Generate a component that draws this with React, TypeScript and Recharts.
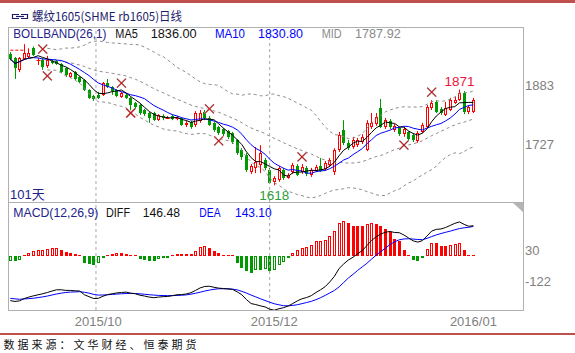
import React from 'react';
import { ComposedChart, Bar, Line, XAxis, YAxis, ReferenceLine, ReferenceDot } from 'recharts';

// ---------------- data ----------------
const opens = [
  1965, 1954, 1923, 1952, 1957, 1981, 1949, 1949, 1933, 1946,
  1946, 1938, 1928, 1904, 1917, 1904, 1896, 1870, 1854, 1857,
  1857, 1888, 1878, 1870, 1851, 1857, 1849, 1836, 1830, 1817,
  1809, 1809, 1790, 1801, 1796, 1801, 1795, 1796, 1777, 1785,
  1777, 1788, 1812, 1796, 1783, 1772, 1767, 1761, 1756, 1738,
  1711, 1698, 1653, 1664, 1672, 1685, 1658, 1627, 1632, 1658,
  1637, 1653, 1669, 1653, 1664, 1645, 1656, 1669, 1661, 1672,
  1653, 1711, 1764, 1730, 1719, 1724, 1732, 1711, 1772, 1780,
  1822, 1772, 1788, 1764, 1769, 1753, 1759, 1751, 1735, 1759,
  1772, 1822, 1838, 1820, 1804, 1817, 1835, 1843, 1862, 1812,
  1812,
];
const highs = [
  1970, 1957, 1957, 1991, 1980, 1985, 1954, 1954, 1960, 1949,
  1949, 1941, 1930, 1917, 1920, 1907, 1899, 1872, 1857, 1865,
  1891, 1899, 1880, 1872, 1865, 1862, 1851, 1838, 1833, 1820,
  1812, 1812, 1806, 1806, 1801, 1806, 1801, 1798, 1788, 1788,
  1814, 1817, 1817, 1801, 1785, 1775, 1769, 1764, 1759, 1740,
  1716, 1703, 1674, 1719, 1724, 1690, 1664, 1642, 1669, 1664,
  1650, 1677, 1674, 1674, 1669, 1664, 1672, 1690, 1682, 1690,
  1716, 1759, 1790, 1738, 1746, 1743, 1753, 1790, 1809, 1809,
  1846, 1796, 1793, 1780, 1772, 1772, 1761, 1756, 1761, 1783,
  1830, 1843, 1843, 1825, 1838, 1849, 1851, 1871, 1867, 1830,
  1849,
];
const lows = [
  1948, 1899, 1917, 1950, 1954, 1960, 1936, 1923, 1928, 1938,
  1936, 1915, 1904, 1901, 1896, 1888, 1867, 1846, 1841, 1846,
  1854, 1875, 1857, 1851, 1849, 1846, 1817, 1820, 1804, 1801,
  1783, 1788, 1788, 1790, 1793, 1790, 1790, 1775, 1772, 1767,
  1772, 1783, 1790, 1775, 1759, 1751, 1748, 1740, 1727, 1698,
  1685, 1653, 1648, 1650, 1650, 1658, 1621, 1618, 1627, 1632,
  1635, 1648, 1642, 1648, 1642, 1640, 1653, 1653, 1656, 1666,
  1645, 1706, 1724, 1711, 1714, 1719, 1727, 1708, 1767, 1775,
  1769, 1767, 1767, 1759, 1748, 1746, 1735, 1732, 1730, 1756,
  1769, 1817, 1809, 1804, 1801, 1814, 1833, 1841, 1806, 1806,
  1809,
];
const closes = [
  1952, 1928, 1954, 1968, 1968, 1962, 1950, 1931, 1949, 1941,
  1938, 1917, 1909, 1915, 1899, 1891, 1870, 1849, 1846, 1849,
  1888, 1878, 1867, 1854, 1862, 1849, 1830, 1825, 1809, 1806,
  1796, 1790, 1804, 1796, 1797, 1793, 1797, 1777, 1782, 1772,
  1809, 1809, 1796, 1777, 1764, 1756, 1753, 1746, 1732, 1703,
  1693, 1658, 1669, 1679, 1703, 1664, 1624, 1637, 1664, 1637,
  1645, 1672, 1645, 1666, 1648, 1658, 1666, 1656, 1677, 1685,
  1711, 1751, 1730, 1716, 1738, 1738, 1746, 1783, 1783, 1798,
  1772, 1790, 1772, 1775, 1753, 1767, 1740, 1738, 1756, 1777,
  1825, 1835, 1812, 1809, 1822, 1843, 1843, 1862, 1812, 1825,
  1843,
];
const diffs = [
  -213, -217, -214, -203, -196, -190, -185, -180, -174, -167,
  -161, -161, -164, -164, -166, -167, -185, -194, -203, -202,
  -192, -184, -180, -176, -174, -172, -177, -180, -187, -191,
  -196, -199, -196, -194, -193, -189, -185, -184, -181, -175,
  -164, -152, -145, -144, -149, -153, -155, -157, -159, -171,
  -185, -208, -227, -232, -238, -243, -254, -259, -252, -247,
  -239, -227, -214, -204, -198, -189, -174, -161, -146, -123,
  -96, -59, -37, -18, -5, 12, 27, 51, 76, 93,
  107, 115, 119, 114, 113, 102, 88, 74, 68, 75,
  97, 121, 129, 131, 138, 148, 158, 165, 153, 144,
  146.48,
];
const deas = [
  -202, -204.5, -206.5, -205, -203.5, -201.5, -198.5, -195, -191, -186,
  -181, -177, -174, -172, -171, -170, -173, -177, -183, -186.5,
  -186, -185, -183, -181.5, -180, -179, -178.5, -179, -180.5, -182.5,
  -184.5, -186.5, -188, -188.5, -189, -189, -188, -187, -185.5, -182,
  -177.5, -172.5, -167, -162.5, -158.5, -156, -156, -156, -158, -161.5,
  -168.5, -176.5, -186.5, -195, -204, -212.5, -220.5, -228, -233, -237.5,
  -238, -236, -232.5, -227.5, -222, -216.5, -208.5, -199, -188, -176,
  -164, -147, -125.5, -104.5, -87, -68, -51, -34, -14, 5,
  22.5, 39, 56, 69.5, 79, 83, 84, 82.5, 80.5, 79.5,
  86, 94.5, 102.5, 109, 115, 120.5, 127, 133, 136.5, 139,
  143.1,
];
const macdBars = [
  -24, -24, -16, 2, 16, 24, 29, 30, 35, 40,
  41, 32, 19, 16, 11, 8, -32, -35, -43, -32,
  -8, 8, 13, 16, 16, 13, 3, 1, -13, -16,
  -21, -24, -13, -8, -8, 5, 10, 10, 13, 13,
  24, 43, 48, 40, 24, 16, 8, 5, 2, -32,
  -56, -72, -80, -64, -64, -61, -72, -64, -40, -28,
  -10, 16, 32, 40, 45, 56, 72, 74, 77, 96,
  120, 160, 168, 160, 147, 147, 144, 157, 160, 155,
  144, 131, 115, 83, 72, 32, 3, -19, -24, -8,
  35, 64, 64, 51, 51, 56, 61, 64, 32, 8,
  7,
];

const priceTicks = [1727, 1883];
const macdTicks = [-122, 30];
const dateTickIdx = [19, 57, 100];
const dateTickLabels = ['2015/10', '2015/12', '2016/01'];
const monthLineIdx = [19, 56];
const monthLinePos: any[] = ['start', 'middle'];
const xMarkIdx = [7, 8, 24, 26, 43, 45, 63, 85, 91];
const xMarkVal = [1978, 1907, 1888, 1809, 1820, 1735, 1693, 1724, 1864];
const highMarkIdx = 97;
const lowMarkIdx = 57;
const topDashIdx = [0, 3];
const topDashVal = 1975;

// legend texts: [text, x, width, colour]
const priceLegend: [string, number, number, string][] = [
  ['BOLLBAND(26,1)', 13.3, 93, '#22228a'],
  ['MA5', 115.3, 22.5, '#111111'],
  ['1836.00', 150.7, 46, '#111111'],
  ['MA10', 215, 30, '#0000ff'],
  ['1830.80', 258, 45, '#0000ff'],
  ['MID', 321.7, 20, '#8a8a8a'],
  ['1787.92', 355, 45.7, '#8a8a8a'],
];
const macdLegend: [string, number, number, string][] = [
  ['MACD(12,26,9)', 13.3, 85, '#22228a'],
  ['DIFF', 106, 24, '#111111'],
  ['146.48', 142.7, 37.3, '#111111'],
  ['DEA', 199.3, 21.3, '#0000ff'],
  ['143.10', 235, 36.7, '#0000ff'],
];

// ---------------- derived rows ----------------
const N = closes.length;
const PAD_SLOTS = 10;
const BOLL_START = 8;

function avg(arr: number[]) {
  return arr.reduce((a, b) => a + b, 0) / arr.length;
}
function sma(i: number, n: number) {
  return avg(closes.slice(Math.max(0, i - n + 1), i + 1));
}
function boll(i: number) {
  const w = closes.slice(Math.max(0, i - 25), i + 1);
  const m = avg(w);
  const sd = Math.sqrt(w.reduce((a, b) => a + (b - m) * (b - m), 0) / Math.max(1, w.length - 1));
  return { m, up: m + 2 * sd, dn: m - 2 * sd };
}

const rows: any[] = [];
for (let i = 0; i < N + PAD_SLOTS; i++) {
  if (i >= N) {
    rows.push({ i });
    continue;
  }
  const b = i >= BOLL_START ? boll(i) : null;
  rows.push({
    i,
    open: opens[i],
    high: highs[i],
    low: lows[i],
    close: closes[i],
    ma5: sma(i, 5),
    ma10: sma(i, 10),
    mid: b ? b.m : null,
    up: b ? b.up : null,
    dn: b ? b.dn : null,
    diff: diffs[i],
    dea: deas[i],
    macd: macdBars[i],
    rising: i === 0 ? true : macdBars[i] > macdBars[i - 1],
  });
}

// ---------------- styles ----------------
const UP = '#ff0000';
const DOWN = '#009a00';
const FONT = '"Liberation Sans", Arial, sans-serif';
const CJK = '"Noto Sans CJK SC", sans-serif';
const AXIS_GRAY = '#808080';
const FRAME = '#b0b0b0';

function Candle(props: any) {
  const { x, y, width, height, payload } = props;
  if (!payload || payload.high == null) return null;
  const { open, close, high, low } = payload;
  const span = high - low;
  const toY = (v: number) => (span > 0 ? y + ((high - v) / span) * height : y);
  const left = Math.round(x);
  const w = Math.max(3, Math.round(width));
  const cx = left + Math.floor(w / 2) + 0.5;
  const yH = toY(high);
  const yL = toY(low);
  const yT = Math.round(toY(Math.max(open, close)));
  const yB = Math.round(toY(Math.min(open, close)));
  const up = close >= open;
  const color = up ? UP : DOWN;
  if (yB - yT < 1) {
    return (
      <g>
        <line x1={cx} x2={cx} y1={yH} y2={yL} stroke={color} strokeWidth={1} />
        <line x1={left - 0.5} x2={left + w + 0.5} y1={yT + 0.5} y2={yT + 0.5} stroke={color} strokeWidth={1} />
      </g>
    );
  }
  return (
    <g>
      <line x1={cx} x2={cx} y1={yH} y2={yT} stroke={color} strokeWidth={1} />
      <line x1={cx} x2={cx} y1={yB} y2={yL} stroke={color} strokeWidth={1} />
      {up ? (
        <rect x={left + 0.5} y={yT + 0.5} width={w - 1} height={Math.max(1, yB - yT - 1)} fill="#ffffff" stroke={color} strokeWidth={1} />
      ) : (
        <rect x={left} y={yT} width={w} height={Math.max(1, yB - yT)} fill={color} />
      )}
    </g>
  );
}

function MacdBar(props: any) {
  const { x, y, width, height, payload } = props;
  if (!payload || payload.macd == null) return null;
  const v = payload.macd;
  const top = Math.round(Math.min(y, y + height));
  const bot = Math.round(Math.max(y, y + height));
  const h = bot - top;
  const color = v >= 0 ? UP : DOWN;
  const left = Math.round(x);
  const w = Math.max(3, Math.round(width));
  if (h < 2) {
    return <rect x={left} y={v >= 0 ? bot - 1 : top} width={w} height={1} fill={color} />;
  }
  if (payload.rising) {
    return <rect x={left + 0.5} y={top + 0.5} width={w - 1} height={h - 1} fill="#ffffff" stroke={color} strokeWidth={1} />;
  }
  return <rect x={left} y={top} width={w} height={h} fill={color} />;
}

function XMark(props: any) {
  const { cx, cy } = props;
  if (cx == null || cy == null) return null;
  const s = 4.5;
  return (
    <g>
      <line x1={cx - s} y1={cy - s} x2={cx + s} y2={cy + s} stroke="#b4eef0" strokeWidth={2} />
      <line x1={cx - s} y1={cy + s} x2={cx + s} y2={cy - s} stroke="#b4eef0" strokeWidth={2} />
      <line x1={cx - s} y1={cy - s} x2={cx + s} y2={cy + s} stroke="#d01010" strokeWidth={1.1} />
      <line x1={cx - s} y1={cy + s} x2={cx + s} y2={cy - s} stroke="#d01010" strokeWidth={1.1} />
    </g>
  );
}

const emptyShape = () => <g />;

export default function App() {
  const tickStyle = { fill: AXIS_GRAY, fontSize: 13, fontFamily: FONT };
  return (
    <div style={{ position: 'absolute', left: 0, top: 0, width: 575, height: 353, background: '#ffffff', overflow: 'hidden' }}>
      <div style={{ position: 'absolute', left: 0, top: 0, width: 575, height: 3, background: '#c0504d' }} />
      <div style={{ position: 'absolute', left: 0, top: 333, width: 575, height: 2, background: '#c0504d' }} />
      <div style={{ position: 'absolute', left: 8, top: 27, width: 516, height: 176, border: `1px solid ${FRAME}`, boxSizing: 'border-box' }} />
      <div style={{ position: 'absolute', left: 8, top: 202, width: 516, height: 109, borderLeft: `1px solid ${FRAME}`, borderRight: `1px solid ${FRAME}`, borderBottom: `1px solid ${FRAME}`, boxSizing: 'border-box' }} />

      {/* price panel */}
      <div style={{ position: 'absolute', left: 0, top: 0 }}>
        <ComposedChart width={575} height={202} data={rows} margin={{ top: 28, right: 3, bottom: 0, left: 8 }}>
          <XAxis dataKey="i" type="category" hide allowDuplicatedCategory={false} />
          <YAxis
            orientation="right"
            width={50}
            type="number"
            domain={[1573.65, 2033.71]}
            allowDataOverflow
            ticks={priceTicks}
            tick={tickStyle}
            tickLine={false}
            axisLine={false}
            tickSize={0}
            tickMargin={3}
          />
          {monthLineIdx.map((m, k) => (
            <ReferenceLine key={'g' + m} x={m} position={monthLinePos[k]} stroke="#a8a8a8" strokeDasharray="3 3" />
          ))}
          <Line dataKey="up" stroke="#8c8c8c" strokeWidth={1} strokeDasharray="3 3" dot={false} isAnimationActive={false} />
          <Line dataKey="mid" stroke="#8c8c8c" strokeWidth={1} strokeDasharray="3 3" dot={false} isAnimationActive={false} />
          <Line dataKey="dn" stroke="#8c8c8c" strokeWidth={1} strokeDasharray="3 3" dot={false} isAnimationActive={false} />
          <ReferenceLine
            segment={[{ x: topDashIdx[0], y: topDashVal }, { x: topDashIdx[1], y: topDashVal }]}
            stroke="#ff0000"
            strokeDasharray="3 2"
          />
          <Bar
            dataKey={(d: any) => (d.high == null ? null : [d.low, d.high])}
            maxBarSize={3}
            shape={(p: any) => <Candle {...p} />}
            isAnimationActive={false}
          />
          <Line dataKey="ma10" stroke="#0000ff" strokeWidth={1} dot={false} isAnimationActive={false} />
          <Line dataKey="ma5" stroke="#000000" strokeWidth={1} dot={false} isAnimationActive={false} />
          {xMarkIdx.map((xi, k) => (
            <ReferenceDot key={'x' + xi} x={xi} y={xMarkVal[k]} r={5} shape={(p: any) => <XMark {...p} />} />
          ))}
          <ReferenceDot
            x={highMarkIdx}
            y={highs[highMarkIdx]}
            r={1}
            shape={emptyShape}
            label={{ value: String(highs[highMarkIdx]), position: 'top', offset: 3, fill: '#f0143c', fontSize: 13.5, fontFamily: FONT }}
          />
          <ReferenceDot
            x={lowMarkIdx}
            y={lows[lowMarkIdx]}
            r={1}
            shape={emptyShape}
            label={{ value: String(lows[lowMarkIdx]), position: 'bottom', offset: 4, fill: '#2e9e3a', fontSize: 13.5, fontFamily: FONT }}
          />
        </ComposedChart>
      </div>

      {/* MACD panel */}
      <div style={{ position: 'absolute', left: 0, top: 202 }}>
        <ComposedChart width={575} height={151} data={rows} margin={{ top: 1, right: 3, bottom: 23, left: 8 }}>
          <XAxis
            dataKey="i"
            type="category"
            allowDuplicatedCategory={false}
            ticks={dateTickIdx}
            interval={0}
            tickFormatter={(v: any) => dateTickLabels[dateTickIdx.indexOf(Number(v))] || ''}
            tick={tickStyle}
            tickLine={false}
            axisLine={false}
            tickSize={0}
            tickMargin={7}
            height={20}
          />
          <YAxis
            orientation="right"
            width={50}
            type="number"
            domain={[-258, 255.6]}
            allowDataOverflow
            ticks={macdTicks}
            tick={tickStyle}
            tickLine={false}
            axisLine={false}
            tickSize={0}
            tickMargin={3}
          />
          {monthLineIdx.map((m, k) => (
            <ReferenceLine key={'mg' + m} x={m} position={monthLinePos[k]} stroke="#a8a8a8" strokeDasharray="3 3" />
          ))}
          <Bar dataKey="macd" maxBarSize={3} shape={(p: any) => <MacdBar {...p} />} isAnimationActive={false} />
          <Line dataKey="dea" stroke="#0000ff" strokeWidth={1} dot={false} isAnimationActive={false} />
          <Line dataKey="diff" stroke="#000000" strokeWidth={1} dot={false} isAnimationActive={false} />
        </ComposedChart>
      </div>

      {/* texts & decorations */}
      <svg width={575} height={353} style={{ position: 'absolute', left: 0, top: 0, pointerEvents: 'none' }}>
        <g stroke="#1c1c6c" strokeWidth={1.2} fill="none">
          <path d="M19 14.5 H12.5 V18.5 H19" />
          <path d="M21 14.5 H27.5 V18.5 H21" />
          <path d="M16 16.5 H24" />
        </g>
        <text x={32} y={20.5} fontFamily={CJK} fontSize={12} fill="#1c1c6c" textLength={150} lengthAdjust="spacingAndGlyphs">
          螺纹1605(SHME rb1605)日线
        </text>

        <g fontFamily={FONT} fontSize={12}>
          {priceLegend.map(([t, x, w, c]) => (
            <text key={'pl' + t} x={x} y={38} fill={c} textLength={w} lengthAdjust="spacingAndGlyphs">{t}</text>
          ))}
          {macdLegend.map(([t, x, w, c]) => (
            <text key={'ml' + t} x={x} y={216.5} fill={c} textLength={w} lengthAdjust="spacingAndGlyphs">{t}</text>
          ))}
        </g>

        <text x={10} y={199} fontFamily={`${FONT}, ${CJK}`} fontSize={13} fill="#22228a">101天</text>

        <polygon points="513,203 523,203 523,212" fill="#b4b4b4" />

        <text x={3.5} y={348.5} fontFamily={CJK} fontSize={11} fill="#111111" textLength={193} lengthAdjust="spacing">
          数据来源：文华财经、恒泰期货
        </text>
      </svg>
    </div>
  );
}
